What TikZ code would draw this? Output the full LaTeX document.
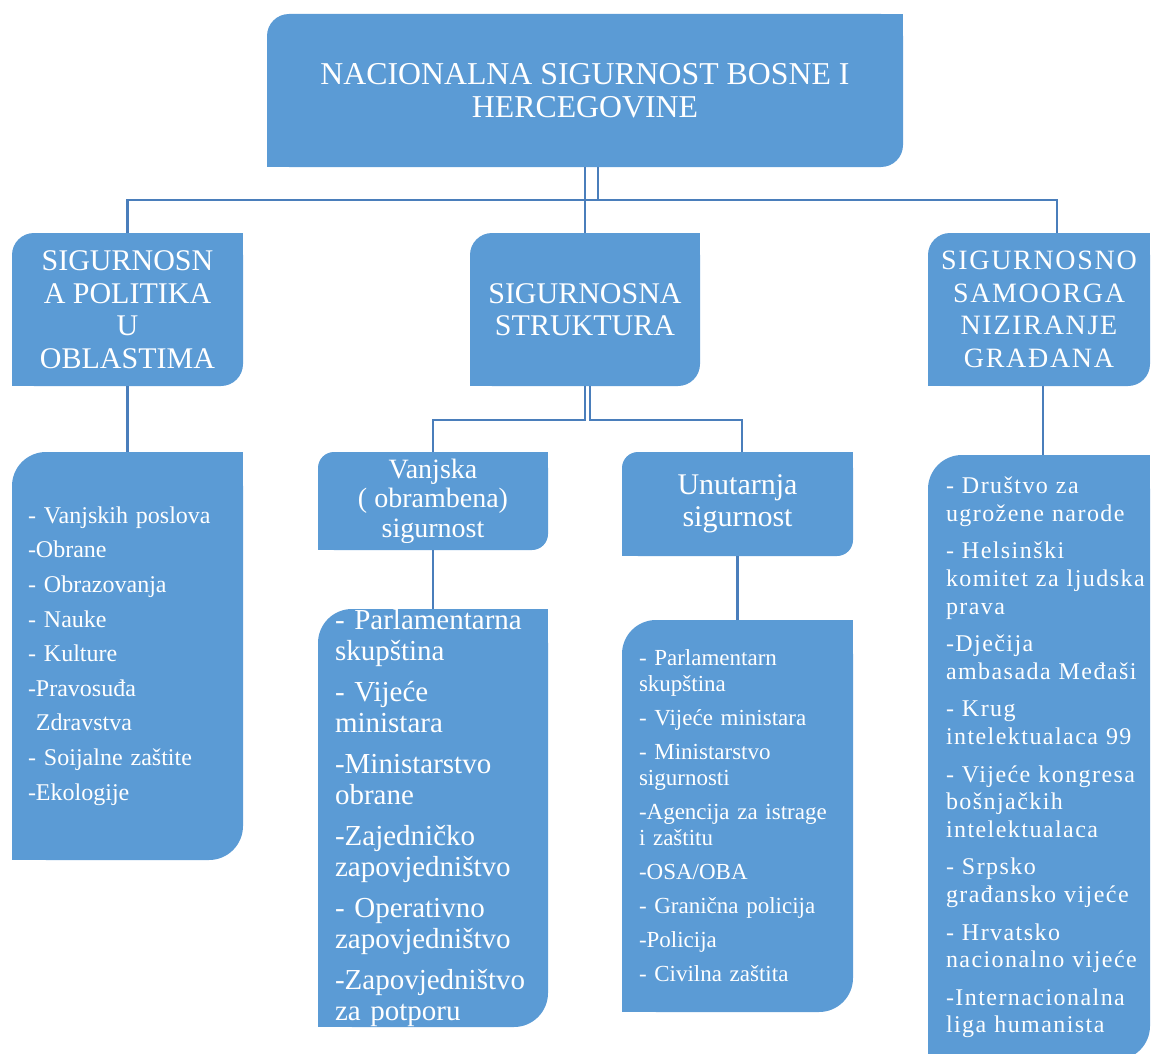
\documentclass[tikz,border=0pt]{standalone}
\usepackage{fontspec}
\setmainfont{Liberation Serif}
\newfontfamily\widefont[LetterSpace=6]{Liberation Serif}
\usetikzlibrary{
  calc
  , positioning
}
\definecolor{boxblue}{HTML}{5B9BD5}
\definecolor{linkblue}{HTML}{4A7EBB}

\tikzset{
  rdbox/.style={
    rectangle,
    inner sep=0pt,
    text=white,
    align=center,
    path picture={
      \fill[boxblue, rounded corners=#1]
      (path picture bounding box.south west) rectangle (path picture bounding box.north east);
      \fill[boxblue] (path picture bounding box.north east) rectangle ++(-#1,-#1);
      \fill[boxblue] (path picture bounding box.south west) rectangle ++(#1,#1);
    }
  },
  rdbox/.default=22pt,
  conn/.style={draw=linkblue, line width=2.3pt},
}

\begin{document}
\begin{tikzpicture}[x=1pt,y=-1pt]
      \path[use as bounding box, clip] (0,0) rectangle (1151,1054);

      \def\TopFont {\fontsize{31.8}{33}\selectfont};
      \def\HeadFont {\fontsize{30}{32.5}\selectfont};
      \node [rdbox,
        minimum width=636,
        minimum height=153,
        font=\TopFont,
      ] (Nat) at (585, 90.5) {NACIONALNA SIGURNOST BOSNE I\\HERCEGOVINE};

      \node [rdbox,
        minimum width=231,
        minimum height=153,
        font=\HeadFont,
      ] (Pol) at (127.5, 309.5) {SIGURNOSN\\A POLITIKA\\U\\OBLASTIMA};
      \node [rdbox,
        minimum width=230,
        minimum height=153,
        font=\HeadFont,
      ] (Struct) at (585, 309.5) {SIGURNOSNA\\STRUKTURA};
      \node [rdbox,
        minimum width=222,
        minimum height=153,
        font=\widefont\fontsize{28}{32.5}\selectfont,
      ] (Org) at (1039, 309.5) {SIGURNOSNO\\SAMOORGA\\NIZIRANJE\\GRAĐANA};

      \node [rdbox=16pt,
        minimum width=230,
        minimum height=98,
        font=\fontsize{28}{29.5}\selectfont,
      ] (Ext) at (433, 501) {Vanjska\\( obrambena)\\sigurnost};
      \node [rdbox=16pt,
        minimum width=231,
        minimum height=104,
        font=\fontsize{30}{32}\selectfont,
      ] (Int) at (737.5, 504) {Unutarnja\\sigurnost};

      % lists
      \node [rdbox=34pt,
        minimum width=231,
        minimum height=408,
        text width=199,
        align=left,
        font=\fontsize{24}{27.6}\selectfont,
      ] (PolList) at (127.5, 656) {- Vanjskih poslova\\[7pt]-Obrane\\[7pt]- Obrazovanja\\[7pt]- Nauke\\[7pt]- Kulture\\[7pt]-Pravosuđa\\[7pt]\ Zdravstva\\[7pt]- Soijalne zaštite\\[7pt]-Ekologije};
      \node [rdbox=34pt,
        minimum width=230,
        minimum height=418,
        text width=196,
        align=left,
        font=\fontsize{29}{31}\selectfont,
      ] (ExtList) at (433, 818) {- Parlamentarna\\skupština\\[10pt]- Vijeće\\ministara\\[10pt]-Ministarstvo\\obrane\\[10pt]-Zajedničko\\zapovjedništvo\\[10pt]- Operativno\\zapovjedništvo\\[10pt]-Zapovjedništvo\\za potporu};
      \node [rdbox=34pt,
        minimum width=231,
        minimum height=392,
        text width=197,
        align=left,
        font=\fontsize{23}{26}\selectfont,
      ] (IntList) at (737.5, 816) {- Parlamentarn\\skupština\\[8pt]- Vijeće ministara\\[8pt]- Ministarstvo\\sigurnosti\\[8pt]-Agencija za istrage\\i zaštitu\\[8pt]-OSA/OBA\\[8pt]- Granična policija\\[8pt]-Policija\\[8pt]- Civilna zaštita};
      \node [rdbox=34pt,
        minimum width=222,
        minimum height=605,
        text width=186,
        align=left,
        font=\widefont\fontsize{24}{27.6}\selectfont,
      ] (OrgList) at (1039, 757.5) {\hyphenpenalty=10000 \exhyphenpenalty=10000 -~Društvo~za\\ugrožene~narode\\[10pt]-~Helsinški\\komitet~za~ljudska\\prava\\[10pt]-Dječija\\ambasada~Međaši\\[10pt]-~Krug\\intelektualaca~99\\[10pt]-~Vijeće~kongresa\\bošnjačkih\\intelektualaca\\[10pt]-~Srpsko\\građansko~vijeće\\[10pt]-~Hrvatsko\\nacionalno~vijeće\\[10pt]-Internacionalna\\liga~humanista};

      % connectors
      \draw[conn] (Nat.south) -- (Struct.north);
      \draw[conn] ([xshift=13]Nat.south) -- ++(0,33) -| (Pol.north);
      \draw[conn] ([xshift=13]Nat.south) -- ++(0,33) -| ([xshift=18]Org.north);

      \draw[conn] (Struct.south) -- ++(0,34) -| (Ext.north);
      \draw[conn] ([xshift=5]Struct.south) -- ++(0,34) -| ([xshift=4.5]Int.north);

      \draw[conn] (Pol.south) -- (PolList.north);
      \draw[conn] (Ext.south) -- (ExtList.north);
      \draw[conn] (Int.south) -- (IntList.north);
      \draw[conn] ([xshift=4]Org.south) -- ([xshift=4]OrgList.north);
\end{tikzpicture}
\end{document}
